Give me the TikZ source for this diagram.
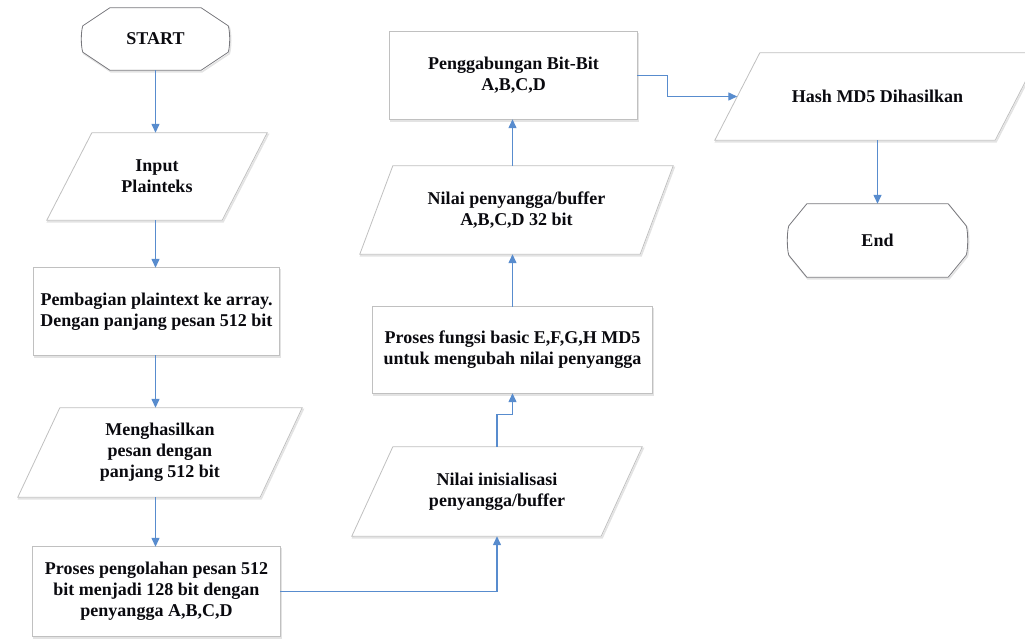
\documentclass[tikz,border=0pt]{standalone}
\usepackage{fontspec}
\setmainfont{Liberation Serif}
\usetikzlibrary{arrows.meta,calc,backgrounds}
\definecolor{arrblue}{RGB}{88,140,206}
\definecolor{edgegray}{RGB}{192,192,192}
\definecolor{termgray}{RGB}{120,120,125}
\definecolor{txt}{RGB}{10,10,15}
\tikzset{
  box/.style={rectangle, inner sep=0pt, align=center, font=\fontsize{18}{21}\selectfont\bfseries, text=txt},
  outline/.style={draw=edgegray, line width=0.8pt, fill=white,
    preaction={draw=gray!22, line width=1.6pt, transform canvas={shift={(1pt,-1.5pt)}}}},
  termline/.style={outline, draw=termgray},
  arr/.style={draw=arrblue, line width=1.3pt, -{Triangle[length=9pt,width=8pt]}},
}
\newcommand\rectoutline[1]{\path[outline] (#1.north west) rectangle (#1.south east);}
\newcommand\paraoutline[2]{\path[outline] ($(#1.north west)+(#2,0)$) -- (#1.north east) -- ($(#1.south east)+(-#2,0)$) -- (#1.south west) -- cycle;}
\newcommand\termoutline[3]{\path[termline] ($(#1.north west)+(#2,0)$) -- ($(#1.north east)+(-#2,0)$) -- ($(#1.north east)+(0,#3)$) .. controls +(2,6) and +(2,-6) .. ($(#1.south east)+(0,-#3)$) -- ($(#1.south east)+(-#2,0)$) -- ($(#1.south west)+(#2,0)$) -- ($(#1.south west)+(0,-#3)$) .. controls +(-2,-6) and +(-2,6) .. ($(#1.north west)+(0,#3)$) -- cycle;}
\begin{document}
\begin{tikzpicture}[x=1pt,y=-1pt]
\useasboundingbox (0,0) rectangle (1025,638);
% nodes
\node[box, minimum width=145pt, minimum height=62pt] (start) at (155.5,39) {START};
\node[box, minimum width=220pt, minimum height=87pt] (input) at (157,176.5) {Input\\Plainteks};
\node[box, minimum width=245pt, minimum height=87pt] (bagi) at (156.5,311.5) {Pembagian plaintext ke array.\\Dengan panjang pesan 512 bit};
\node[box, minimum width=284pt, minimum height=89pt] (hasil) at (160,452.5) {Menghasilkan\\pesan dengan\\panjang 512 bit};
\node[box, minimum width=247pt, minimum height=89pt] (olah) at (156.5,591.5) {Proses pengolahan pesan 512\\bit menjadi 128 bit dengan\\penyangga A,B,C,D};
\node[box, minimum width=290pt, minimum height=89pt] (inisial) at (497,491.5) {Nilai inisialisasi\\penyangga/buffer};
\node[box, minimum width=279pt, minimum height=86pt] (fungsi) at (512.5,350) {Proses fungsi basic E,F,G,H MD5\\untuk mengubah nilai penyangga};
\node[box, minimum width=313pt, minimum height=88pt] (nilai) at (516.5,210) {Nilai penyangga/buffer\\A,B,C,D 32 bit};
\node[box, minimum width=247pt, minimum height=87pt] (gabung) at (513.5,75.5) {Penggabungan Bit-Bit\\A,B,C,D};
\node[box, minimum width=325pt, minimum height=87pt] (hash) at (877.5,96.5) {Hash MD5 Dihasilkan};
\node[box, minimum width=177pt, minimum height=73pt] (end) at (877.5,240.5) {End};
\coordinate (hashin) at ($(hash.north west)!0.5!(hash.south west)+(22.5,0)$);
% outlines
\begin{scope}[on background layer]
\termoutline{start}{27}{18}
\paraoutline{input}{45}
\rectoutline{bagi}
\paraoutline{hasil}{42}
\rectoutline{olah}
\paraoutline{inisial}{41}
\rectoutline{fungsi}
\paraoutline{nilai}{33}
\rectoutline{gabung}
\paraoutline{hash}{45}
\termoutline{end}{18}{22}
\end{scope}
% connectors
\draw[arr] (start.south) -- (start.south |- input.north);
\draw[arr] (start.south |- input.south) -- (start.south |- bagi.north);
\draw[arr] (start.south |- bagi.south) -- (start.south |- hasil.north);
\draw[arr] (start.south |- hasil.south) -- (start.south |- olah.north);
\draw[arr] (olah.east) -| (inisial.south);
\draw[arr] (inisial.north) -- ++(0,-32) -| (fungsi.south);
\draw[arr] (fungsi.north) -- (fungsi.north |- nilai.south);
\draw[arr] (fungsi.north |- nilai.north) -- (fungsi.north |- gabung.south);
\draw[arr] (gabung.east) -- ++(30,0) |- (hashin);
\draw[arr] (hash.south) -- (end.north);
\end{tikzpicture}
\end{document}
